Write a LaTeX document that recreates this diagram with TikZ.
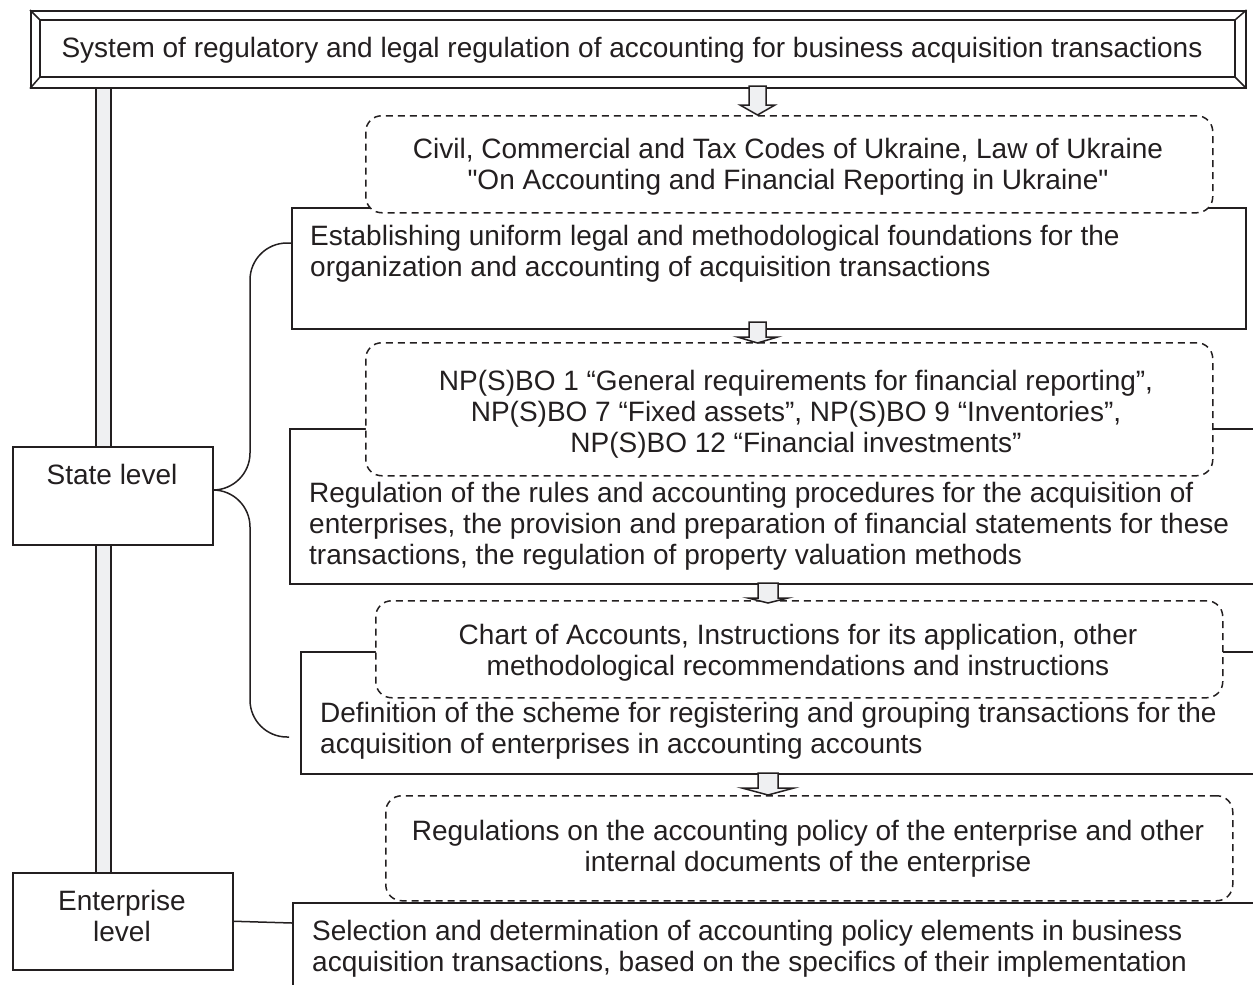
\documentclass[tikz,border=0pt]{standalone}
\usepackage{fontspec}
\setmainfont{Liberation Sans}
\definecolor{ink}{HTML}{231F20}
\definecolor{lightfill}{HTML}{EFF0F2}
\newcommand{\blockarr}[5]{%
  \draw[blk] ([xshift=-#3pt]#1) -- ([xshift=-#3pt,yshift=#5pt]#2) -- ([xshift=-#4pt,yshift=#5pt]#2) -- (#2)
   -- ([xshift=#4pt,yshift=#5pt]#2) -- ([xshift=#3pt,yshift=#5pt]#2) -- ([xshift=#3pt]#1) -- cycle;}
\begin{document}
\begin{tikzpicture}[x=1pt,y=-1pt,
  every node/.style={font=\fontsize{28}{31}\selectfont, text=ink},
  line/.style={draw=ink, line width=1.5pt},
  solidbox/.style={line, fill=white, rectangle, inner sep=0, anchor=north west},
  dashbox/.style={line, fill=white, rectangle, rounded corners=16pt, dash pattern=on 7pt off 5pt, inner sep=0, anchor=north west},
  txtl/.style={inner sep=0, anchor=north west, align=left},
  txtc/.style={inner sep=0, anchor=north, align=center},
  blk/.style={line, fill=lightfill, line join=miter},
  bracket/.style={line, rounded corners=37pt}]
\path[use as bounding box] (0,0) rectangle (1253,985);
\clip (0,0) rectangle (1253,985);
% vertical bar
\draw[line, fill=lightfill] (96,80) rectangle (111,875);
% title
\node[solidbox, minimum width=1215pt, minimum height=77pt] (title) at (30,10) {};
\draw[line] (40,20) rectangle (1235,77);
\draw[line] (title.north west) -- (40,20) (title.north east) -- (1235,20)
            (title.south west) -- (40,77) (title.south east) -- (1235,77);
\node[inner sep=0, anchor=base] (titletext) at (632,57) {System of regulatory and legal regulation of accounting for business acquisition transactions};
% level boxes
\node[solidbox, minimum width=200pt, minimum height=98pt] (state) at (12,446) {};
\node[inner sep=0, anchor=base] (statetext) at (112,484) {State level};
\node[solidbox, minimum width=220pt, minimum height=97pt] (ent) at (12,872) {};
\node[txtc] (enttext) at (122,890) {Enterprise\\level};
% solid boxes
\node[solidbox, minimum width=954pt, minimum height=121pt] (box1) at (291,207) {};
\node[solidbox, minimum width=990pt, minimum height=155pt] (box2) at (289,428) {};
\node[solidbox, minimum width=990pt, minimum height=122pt] (box3) at (300,651) {};
\node[solidbox, minimum width=990pt, minimum height=130pt] (box4) at (292,902) {};
% dashed boxes
\node[dashbox, minimum width=847pt, minimum height=97pt] (dash1) at (365,115) {};
\node[dashbox, minimum width=847pt, minimum height=133pt] (dash2) at (365,342) {};
\node[dashbox, minimum width=847pt, minimum height=97pt] (dash3) at (375,600) {};
\node[dashbox, minimum width=847pt, minimum height=105pt] (dash4) at (385,795) {};
% texts
\node[txtc] (d1t) at (788,138) {Civil, Commercial and Tax Codes of Ukraine, Law of Ukraine\\\textquotedbl On Accounting and Financial Reporting in Ukraine\textquotedbl};
\node[txtl] (b1t) at (310,225) {Establishing uniform legal and methodological foundations for the\\organization and accounting of acquisition transactions};
\node[txtc] (d2t) at (796,370) {NP(S)BO 1 “General requirements for financial reporting”,\\NP(S)BO 7 “Fixed assets”, NP(S)BO 9 “Inventories”,\\NP(S)BO 12 “Financial investments”};
\node[txtl] (b2t) at (309,482) {Regulation of the rules and accounting procedures for the acquisition of\\enterprises, the provision and preparation of financial statements for these\\transactions, the regulation of property valuation methods};
\node[txtc] (d3t) at (798,624) {Chart of Accounts, Instructions for its application, other\\methodological recommendations and instructions};
\node[txtl] (b3t) at (320,702) {Definition of the scheme for registering and grouping transactions for the\\acquisition of enterprises in accounting accounts};
\node[txtc] (d4t) at (808,820) {Regulations on the accounting policy of the enterprise and other\\internal documents of the enterprise};
\node[txtl] (b4t) at (312,920) {Selection and determination of accounting policy elements in business\\acquisition transactions, based on the specifics of their implementation};
% bracket
\coordinate (b1c) at (291,243);
\coordinate (b3c) at (289,737);
\coordinate (stc) at (212,490);
\draw[bracket] (b1c) -| (250,490) -- (stc);
\draw[bracket] (b3c) -| (250,490) -- (stc);
% enterprise connector
\coordinate (b4c) at (292,923);
\draw[line] (ent.east) -- (b4c);
% block arrows
\coordinate (a1s) at (757.5,86); \coordinate (a1e) at (757.5,115);
\coordinate (a2s) at (757.5,322); \coordinate (a2e) at (757.5,343);
\coordinate (a3s) at (768,583); \coordinate (a3e) at (768,603);
\coordinate (a4s) at (768,773); \coordinate (a4e) at (768,795);
\blockarr{a1s}{a1e}{8.5}{17.5}{10}
\blockarr{a2s}{a2e}{8.5}{20}{6}
\blockarr{a3s}{a3e}{10}{20}{5}
\blockarr{a4s}{a4e}{10}{26}{7}
\end{tikzpicture}
\end{document}
